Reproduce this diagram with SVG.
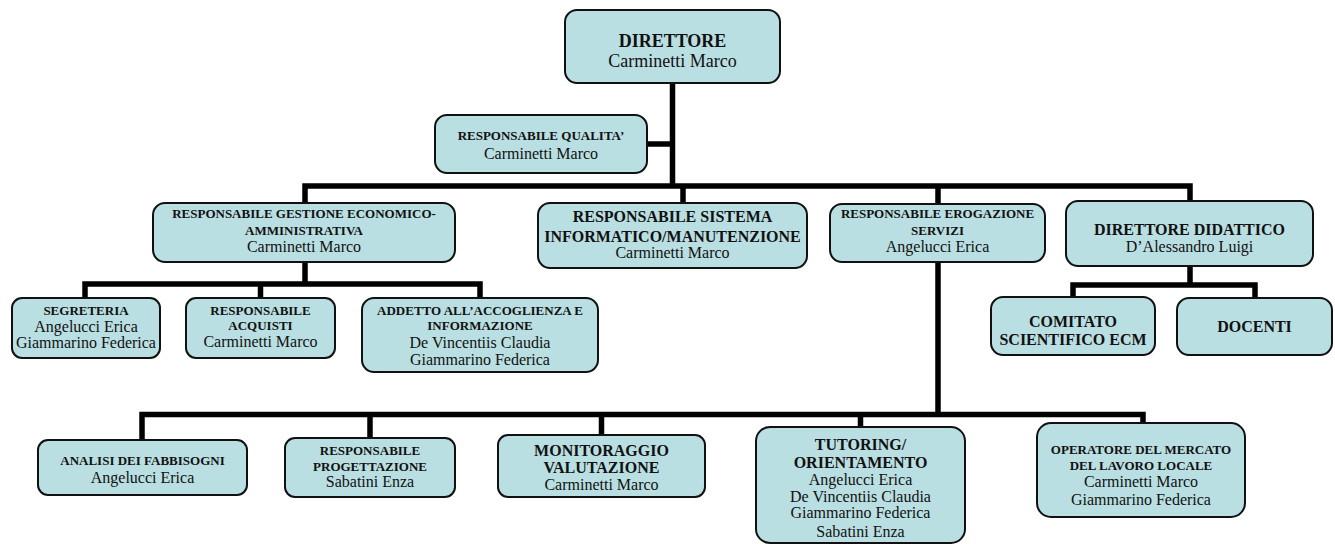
<svg xmlns="http://www.w3.org/2000/svg" width="1335" height="544" viewBox="0 0 1335 544">
<style>
.box{fill:#badfe2;stroke:#111;stroke-width:2}
.c{fill:none;stroke:#000;stroke-width:5.5;stroke-linecap:square;stroke-linejoin:miter}
text{font-family:"Liberation Serif","Times New Roman",serif;fill:#111;text-anchor:middle}
.b13{font-weight:bold;font-size:13px}
.b16{font-weight:bold;font-size:16px}
.n16{font-size:16px}
.b18{font-weight:bold;font-size:18px}
.n18{font-size:18px}
</style>
<rect width="1335" height="544" fill="#fff"/>
<g id="connectors">
<path class="c" d="M672.5,83V186M647,144H672.5M305,203V186H1190V201M683,186V203M938,186V204"/>
<path class="c" d="M305,262V284M85,298V284H480V298M260.5,284V298"/>
<path class="c" d="M1190,266V285M1073,297V285H1255V298"/>
<path class="c" d="M938,262V414.5M142,440V414.5H1143V423M370,414.5V438M601.5,414.5V435M860.5,414.5V427"/>
</g>
<g id="direttore"><rect class="box" x="565" y="10" width="215" height="73" rx="12"/>
<text class="b18" x="672.5" y="47">DIRETTORE</text><text class="n18" x="672.5" y="67">Carminetti Marco</text></g>
<g id="qualita"><rect class="box" x="435" y="115" width="212" height="58" rx="12"/>
<text class="b13" x="541" y="140">RESPONSABILE QUALITA’</text><text class="n16" x="541" y="159">Carminetti Marco</text></g>
<g id="gestione"><rect class="box" x="153" y="203" width="302" height="59" rx="12"/>
<text class="b13" x="304" y="218">RESPONSABILE GESTIONE ECONOMICO-</text><text class="b13" x="304" y="235">AMMINISTRATIVA</text><text class="n16" x="304" y="252">Carminetti Marco</text></g>
<g id="sistema"><rect class="box" x="538" y="203" width="269" height="65" rx="12"/>
<text class="b16" x="672.5" y="222">RESPONSABILE SISTEMA</text><text class="b16" x="672.5" y="242">INFORMATICO/MANUTENZIONE</text><text class="n16" x="672.5" y="258">Carminetti Marco</text></g>
<g id="erogazione"><rect class="box" x="830" y="204" width="215" height="58" rx="12"/>
<text class="b13" x="937.5" y="218">RESPONSABILE EROGAZIONE</text><text class="b13" x="937.5" y="235">SERVIZI</text><text class="n16" x="937.5" y="252">Angelucci Erica</text></g>
<g id="didattico"><rect class="box" x="1066" y="201" width="247" height="65" rx="12"/>
<text class="b16" x="1189.5" y="235">DIRETTORE DIDATTICO</text><text class="n16" x="1189.5" y="252">D’Alessandro Luigi</text></g>
<g id="segreteria"><rect class="box" x="12" y="298" width="148" height="60" rx="10"/>
<text class="b13" x="86" y="315">SEGRETERIA</text><text class="n16" x="86" y="332">Angelucci Erica</text><text class="n16" x="86" y="348">Giammarino Federica</text></g>
<g id="acquisti"><rect class="box" x="186" y="298" width="149" height="60" rx="10"/>
<text class="b13" x="260.5" y="315">RESPONSABILE</text><text class="b13" x="260.5" y="330">ACQUISTI</text><text class="n16" x="260.5" y="347">Carminetti Marco</text></g>
<g id="addetto"><rect class="box" x="362" y="298" width="236" height="74" rx="12"/>
<text class="b13" x="480" y="315">ADDETTO ALL’ACCOGLIENZA E</text><text class="b13" x="480" y="330">INFORMAZIONE</text><text class="n16" x="480" y="348">De Vincentiis Claudia</text><text class="n16" x="480" y="365">Giammarino Federica</text></g>
<g id="comitato"><rect class="box" x="991" y="297" width="164" height="58" rx="12"/>
<text class="b16" x="1073" y="327">COMITATO</text><text class="b16" x="1073" y="345">SCIENTIFICO ECM</text></g>
<g id="docenti"><rect class="box" x="1177" y="298" width="155" height="57" rx="12"/>
<text class="b16" x="1254.5" y="332">DOCENTI</text></g>
<g id="analisi"><rect class="box" x="38" y="440" width="209" height="55" rx="10"/>
<text class="b13" x="142.5" y="465">ANALISI DEI FABBISOGNI</text><text class="n16" x="142.5" y="483">Angelucci Erica</text></g>
<g id="progettazione"><rect class="box" x="285" y="438" width="170" height="59" rx="10"/>
<text class="b13" x="370" y="455">RESPONSABILE</text><text class="b13" x="370" y="471">PROGETTAZIONE</text><text class="n16" x="370" y="487">Sabatini Enza</text></g>
<g id="monitoraggio"><rect class="box" x="498" y="435" width="207" height="62" rx="10"/>
<text class="b16" x="601.5" y="456">MONITORAGGIO</text><text class="b16" x="601.5" y="473">VALUTAZIONE</text><text class="n16" x="601.5" y="490">Carminetti Marco</text></g>
<g id="tutoring"><rect class="box" x="756" y="427" width="209" height="116" rx="14"/>
<text class="b16" x="860.5" y="450">TUTORING/</text><text class="b16" x="860.5" y="468">ORIENTAMENTO</text><text class="n16" x="860.5" y="485">Angelucci Erica</text><text class="n16" x="860.5" y="502">De Vincentiis Claudia</text><text class="n16" x="860.5" y="518">Giammarino Federica</text><text class="n16" x="860.5" y="537">Sabatini Enza</text></g>
<g id="operatore"><rect class="box" x="1037" y="423" width="208" height="94" rx="14"/>
<text class="b13" x="1141" y="454">OPERATORE DEL MERCATO</text><text class="b13" x="1141" y="470">DEL LAVORO LOCALE</text><text class="n16" x="1141" y="487">Carminetti Marco</text><text class="n16" x="1141" y="505">Giammarino Federica</text></g>
</svg>
